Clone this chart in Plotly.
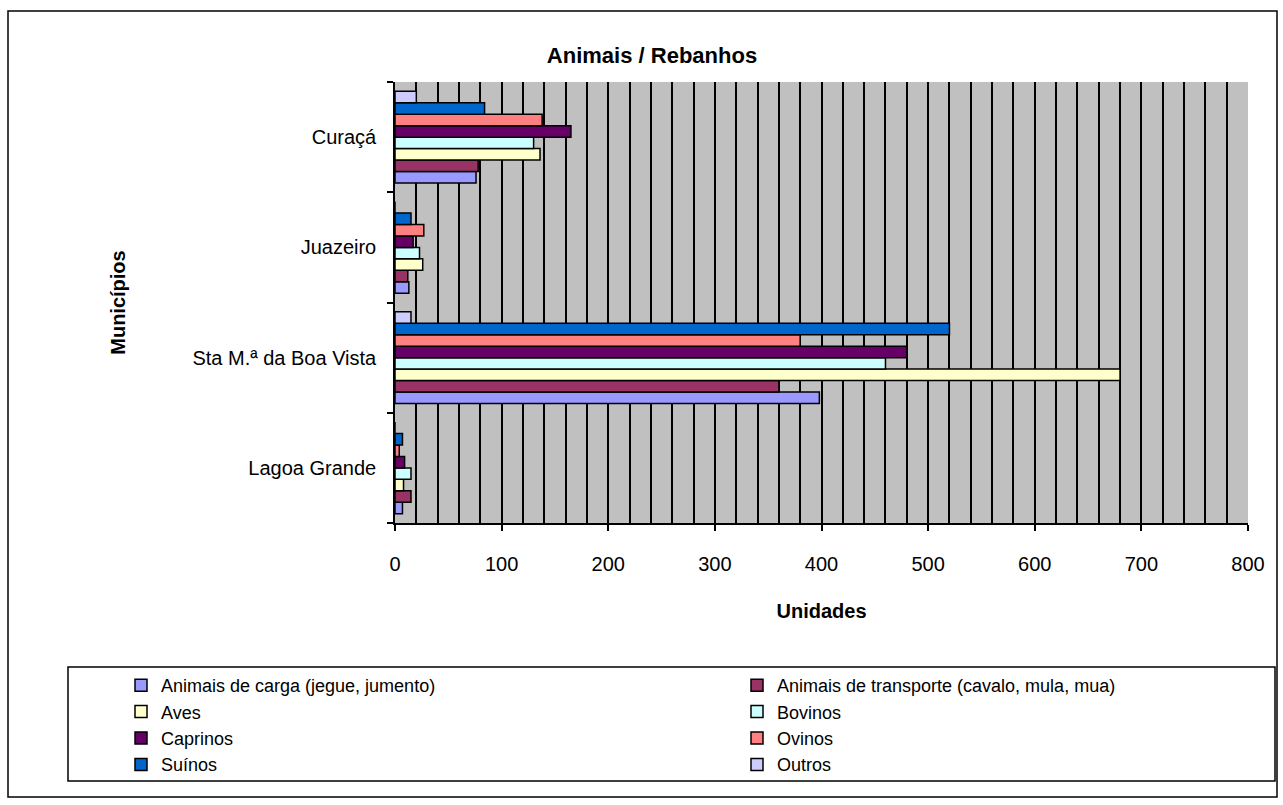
import plotly.graph_objects as go

municipios = ["Lagoa Grande", "Sta M.ª da Boa Vista", "Juazeiro", "Curaçá"]

carga = [7, 398, 13, 76]
transporte = [15, 360, 12, 78]
aves = [8, 680, 26, 136]
bovinos = [15, 460, 23, 130]
caprinos = [9, 480, 17, 165]
ovinos = [4, 380, 27, 138]
suinos = [7, 520, 15, 84]
outros = [0, 15, 0, 20]

series = [
    ("Animais de carga (jegue, jumento)", carga, "#9999FF"),
    ("Animais de transporte (cavalo, mula, mua)", transporte, "#993366"),
    ("Aves", aves, "#FFFFCC"),
    ("Bovinos", bovinos, "#CCFFFF"),
    ("Caprinos", caprinos, "#660066"),
    ("Ovinos", ovinos, "#FF8080"),
    ("Suínos", suinos, "#0066CC"),
    ("Outros", outros, "#CCCCFF"),
]

FONT = "Arial, Liberation Sans, sans-serif"

fig = go.Figure()
for name, vals, col in series:
    fig.add_trace(go.Bar(
        y=municipios, x=vals, name=name, orientation="h",
        marker=dict(color=col, line=dict(color="black", width=1.5)),
    ))

W, H = 1283, 805
L, R, T, B = 395, 35, 82, 282
pw, ph = W - L - R, H - T - B

def px(x):
    return (x - L) / pw

def py(y):
    return (H - B - y) / ph

fig.update_layout(
    width=W, height=H,
    margin=dict(l=L, r=R, t=T, b=B, autoexpand=False),
    paper_bgcolor="white",
    plot_bgcolor="#C0C0C0",
    barmode="group",
    bargap=0.17,
    bargroupgap=0,
    font=dict(family=FONT, size=20, color="black"),
    title=dict(text="<b>Animais / Rebanhos</b>", font=dict(size=22, family=FONT),
               x=652 / W, xref="container", xanchor="center",
               y=1 - 55 / H, yref="container", yanchor="middle"),
    showlegend=True,
    legend=dict(orientation="h", traceorder="normal",
                x=px(121), y=py(667), xanchor="left", yanchor="top",
                entrywidth=571, entrywidthmode="pixels",
                font=dict(size=18, family=FONT),
                bgcolor="rgba(0,0,0,0)", tracegroupgap=0),
    xaxis=dict(range=[0, 800], dtick=100, tick0=0,
               showline=True, linecolor="black", linewidth=1.5,
               ticks="outside", ticklen=6, tickcolor="black", tickwidth=1.5,
               showgrid=True, gridcolor="black", gridwidth=1.5,
               minor=dict(dtick=20, showgrid=True, gridcolor="black", gridwidth=1.5, ticks=""),
               zeroline=False, ticklabelstandoff=16,
               tickfont=dict(size=20),
               title=dict(text="<b>Unidades</b>", font=dict(size=20, family=FONT), standoff=30)),
    yaxis=dict(showline=True, linecolor="black", linewidth=1.5,
               ticks="outside", ticklen=6, tickcolor="black", tickwidth=1.5,
               tickson="boundaries", showgrid=False, ticklabelstandoff=13,
               tickfont=dict(size=20),
               title=dict(text="<b>Municípios</b>", font=dict(size=20, family=FONT), standoff=61)),
    shapes=[
        dict(type="rect", xref="paper", yref="paper",
             x0=px(8), x1=px(1277), y0=py(797), y1=py(11),
             line=dict(color="black", width=1.5), fillcolor="rgba(0,0,0,0)", layer="below"),
        dict(type="rect", xref="paper", yref="paper",
             x0=px(68), x1=px(1275), y0=py(781), y1=py(667),
             line=dict(color="black", width=1.5), fillcolor="rgba(0,0,0,0)", layer="below"),
    ],
)

fig.write_html("out.html")
